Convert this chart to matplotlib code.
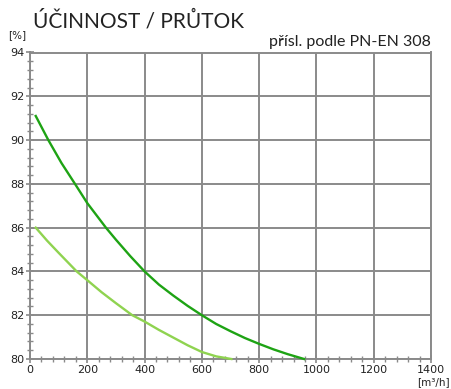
import matplotlib
matplotlib.use("Agg")
import matplotlib.pyplot as plt
from matplotlib.ticker import MultipleLocator

# values
flow_dark = [20, 64, 110, 157, 200, 265, 300, 350, 400, 450, 500, 550, 600,
             650, 700, 750, 800, 850, 900, 957]
eff_dark = [91.1, 90.0, 88.95, 88.0, 87.12, 86.0, 85.45, 84.7, 84.0, 83.4, 82.9,
            82.43, 82.0, 81.6, 81.27, 80.96, 80.69, 80.44, 80.22, 80.0]
flow_light = [20, 60, 100, 163, 200, 250, 300, 357, 400, 450, 500, 550, 600, 650, 703]
eff_light = [86.0, 85.4, 84.85, 84.0, 83.6, 83.05, 82.55, 82.0, 81.71, 81.33, 80.98,
             80.63, 80.32, 80.12, 80.0]

x_ticks = [0, 200, 400, 600, 800, 1000, 1200, 1400]
y_ticks = [80, 82, 84, 86, 88, 90, 92, 94]

grey = "#8a8a8a"
W, H = 451, 389

fig = plt.figure(figsize=(W / 100, H / 100), dpi=100)
ax = fig.add_axes([30 / W, (H - 359) / H, (431 - 30) / W, (359 - 52.5) / H])

ax.plot(flow_dark, eff_dark, c="#1ea314", lw=1.7, clip_on=False, zorder=3)
ax.plot(flow_light, eff_light, c="#8fd350", lw=1.7, clip_on=False, zorder=3)

ax.set_xlim(0, 1400)
ax.set_ylim(80, 94)
ax.set_xticks(x_ticks)
ax.set_yticks(y_ticks)
ax.xaxis.set_minor_locator(MultipleLocator(40))
ax.yaxis.set_minor_locator(MultipleLocator(0.4))
ax.grid(True, which="major", color=grey, lw=1.4)
ax.set_axisbelow(True)

for s in ax.spines.values():
    s.set_color(grey)
    s.set_linewidth(1.4)

ax.tick_params(which="both", direction="inout", colors=grey, labelcolor="#222222",
               labelsize=8, top=False, right=False)
ax.tick_params(which="major", length=6, width=1.2, pad=1)
ax.tick_params(which="minor", length=5, width=1.0)
for lab in ax.get_xticklabels() + ax.get_yticklabels():
    lab.set_family("DejaVu Sans")

fig.text(33 / W, 1 - 28 / H, "ÚČINNOST / PRŮTOK", fontsize=15, family="Lato",
         color="#222222", va="baseline", ha="left")
fig.text(431 / W, 1 - 46 / H, "přísl. podle PN-EN 308", fontsize=11.5, family="Lato",
         color="#222222", va="baseline", ha="right")
fig.text(8 / W, 1 - 35 / H, "[%]", fontsize=7.5, family="DejaVu Sans",
         color="#222222", va="center", ha="left")
fig.text(450 / W, 1 - 382 / H, "[m³/h]", fontsize=7.5, family="DejaVu Sans",
         color="#222222", va="center", ha="right")

fig.savefig("out.png", dpi=100)
